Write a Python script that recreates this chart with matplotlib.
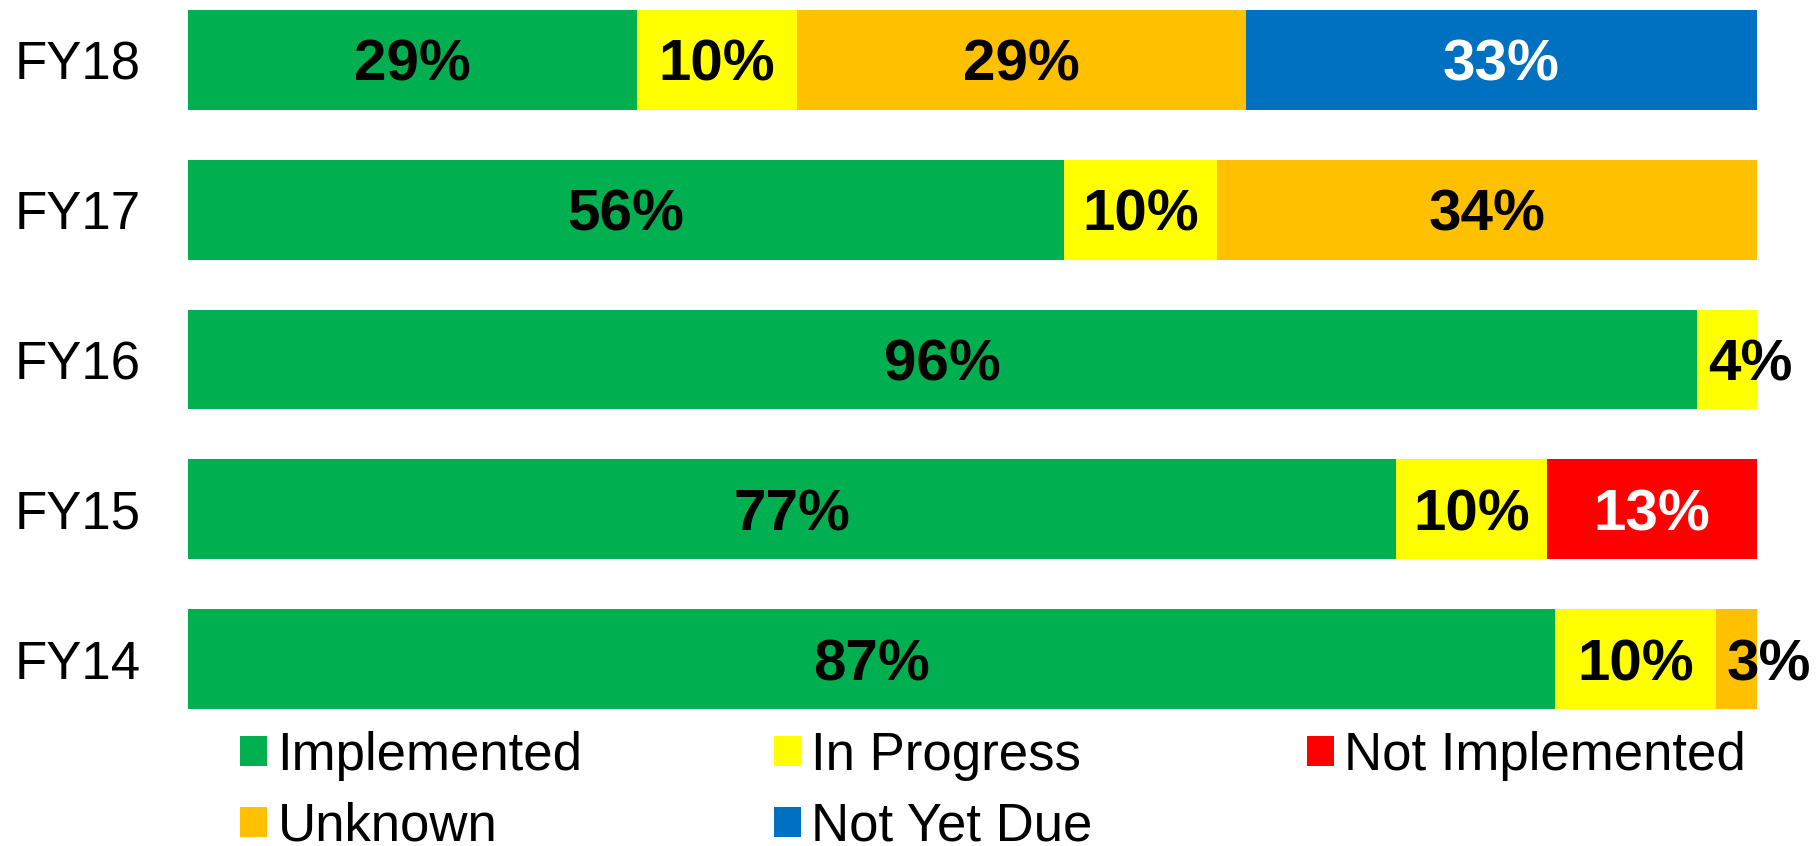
import matplotlib
matplotlib.use("Agg")
import matplotlib.pyplot as plt
import numpy as np

years = ["FY18", "FY17", "FY16", "FY15", "FY14"]
categories = ["Implemented", "In Progress", "Not Implemented", "Unknown", "Not Yet Due"]
implemented = [28.6, 55.8, 96.2, 77.0, 87.1]
in_progress = [10.2, 9.8, 3.8, 9.6, 10.3]
not_implemented = [0, 0, 0, 13.4, 0]
unknown = [28.6, 34.4, 0, 0, 2.6]
not_yet_due = [32.6, 0, 0, 0, 0]
series = [implemented, in_progress, not_implemented, unknown, not_yet_due]

colors = ["#00B050", "#FFFF00", "#FF0000", "#FFC000", "#0070C0"]
label_colors = ["black", "black", "white", "black", "white"]

plt.rcParams['font.family'] = ['Liberation Sans', 'DejaVu Sans']

W, H = 1816, 846
fig = plt.figure(figsize=(W / 100, H / 100), dpi=100)
# axes in pixel coords: bars from x=188 to 1757, y=10 to 709 (from top)
ax = fig.add_axes([188 / W, 1 - 709 / H, (1757 - 188) / W, (709 - 10) / H])

y = np.arange(len(years))[::-1]  # FY18 at top
bar_h = 0.667
left = np.zeros(len(years))
handles = []
for vals, col, lc, name in zip(series, colors, label_colors, categories):
    vals = np.array(vals, dtype=float)
    b = ax.barh(y, vals, left=left, height=bar_h, color=col, label=name, linewidth=0)
    handles.append(b)
    for yi, l, v in zip(y, left, vals):
        if v <= 0:
            continue
        txt = f"{v:.0f}%"
        if v < 5:
            ax.annotate(txt, xy=(l, yi), xytext=(7.5, 0), textcoords='offset points',
                        ha='left', va='center_baseline', fontsize=42,
                        fontweight='bold', color=lc, annotation_clip=False)
        else:
            ax.text(l + v / 2, yi, txt, ha='center', va='center_baseline', fontsize=42,
                    fontweight='bold', color=lc)
    left += vals

ax.set_xlim(0, 100)
ax.set_ylim(-bar_h / 2, len(years) - 1 + bar_h / 2)
ax.set_yticks(y)
ax.set_yticklabels(years, fontsize=38)
ax.tick_params(axis='y', length=0, pad=34)
ax.set_xticks([])
for s in ax.spines.values():
    s.set_visible(False)

# legend entries, placed in a 3-column grid
leg_x = [240, 774, 1307]
leg_y = [755.5, 826.5]
for i, (h, name) in enumerate(zip(handles, categories)):
    r, c = divmod(i, 3)
    fig.legend([h], [name], loc='center left',
               bbox_to_anchor=(leg_x[c] / W, 1 - leg_y[r] / H),
               frameon=False, fontsize=38, handlelength=0.51, handleheight=0.51,
               handletextpad=0.2, borderpad=0, borderaxespad=0)

fig.savefig("out.png", dpi=100)
